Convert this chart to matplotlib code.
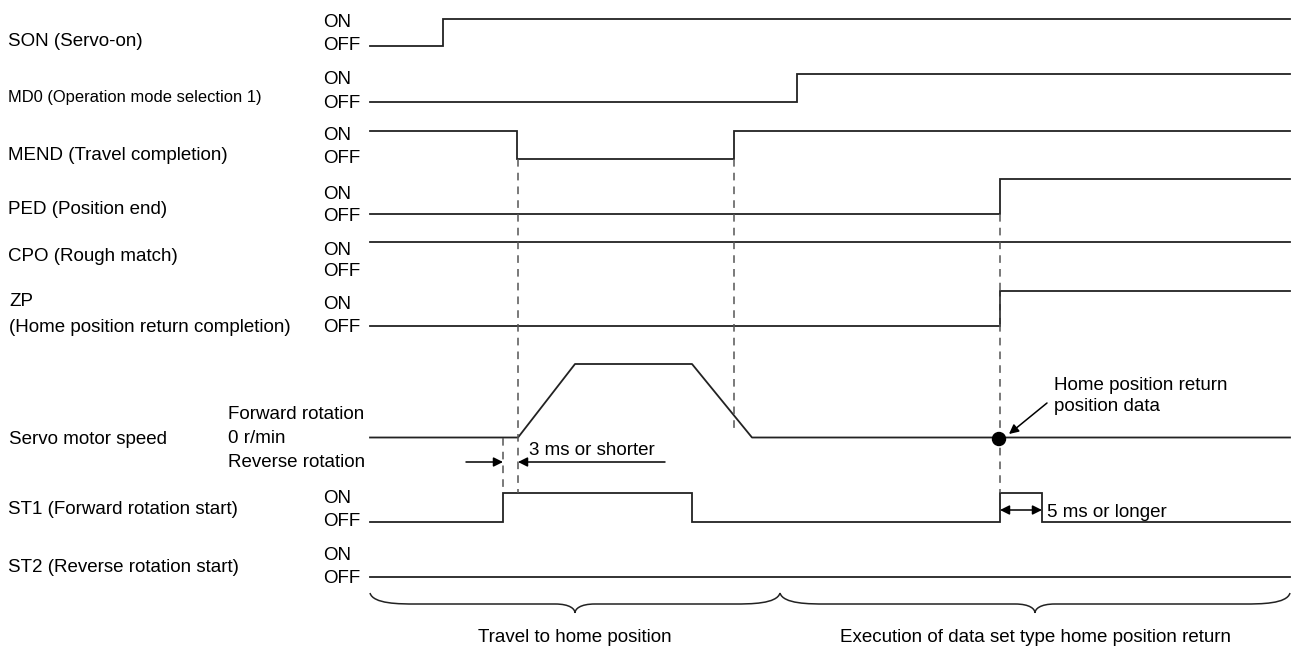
import numpy as np
import matplotlib.pyplot as plt
from matplotlib.path import Path
from matplotlib.patches import PathPatch, Ellipse

plt.rcParams['font.family'] = ['Liberation Sans', 'DejaVu Sans']

# time axis (drawing units along the chart)
t_start, t_end = 370, 1290

signal_names = ['SON (Servo-on)', 'MD0 (Operation mode selection 1)', 'MEND (Travel completion)',
                'PED (Position end)', 'CPO (Rough match)', 'ZP\n(Home position return completion)',
                'ST1 (Forward rotation start)', 'ST2 (Reverse rotation start)']
signal_init = [0, 0, 1, 0, 1, 0, 0, 0]
signal_edges = [[443], [797], [517, 734], [1000], [], [1000], [503, 692, 1000, 1042], []]

speed_t = [t_start, 518, 575, 692, 752, t_end]
speed_v = [0, 0, 1, 1, 0, 0]

dashed_x = [503, 518, 734, 1000]
phase_bounds = [t_start, 780, t_end]
phase_labels = ['Travel to home position', 'Execution of data set type home position return']


def main():
    fig = plt.figure(figsize=(12.94, 6.48), dpi=100)
    ax = fig.add_axes([0, 0, 1, 1])
    ax.set_xlim(0, 1294)
    ax.set_ylim(648, 0)
    ax.axis('off')

    fs = 13.5
    lc = '#222222'
    lw = 1.3

    # row layout: (on line y, off line y, label baseline, ON baseline, OFF baseline)
    rows = [(19, 46, 46, 27, 50),
            (74, 102, 102, 84, 108),
            (131, 159, 160, 140, 163),
            (179, 214, 214, 199, 221),
            (242, 270, 261, 255, 276),
            (291, 326, 332, 309, 332),
            (493, 522, 514, 503, 526),
            (549, 577, 572, 560, 583)]

    for i, name in enumerate(signal_names):
        on_y, off_y, lab_y, on_t, off_t = rows[i]
        lev = {1: on_y, 0: off_y}
        state = signal_init[i]
        xs, ys = [t_start], [lev[state]]
        for e in signal_edges[i]:
            xs.append(e); ys.append(lev[state])
            state = 1 - state
            xs.append(e); ys.append(lev[state])
        xs.append(t_end); ys.append(lev[state])
        ax.plot(xs, ys, color=lc, lw=lw, solid_joinstyle='miter')

        if '\n' in name:
            top, bottom = name.split('\n')
            ax.text(9, lab_y - 26, top, fontsize=fs, va='baseline')
            ax.text(9, lab_y, bottom, fontsize=fs, va='baseline')
        else:
            # the long MD0 label is squeezed in the original, so a bit smaller here
            size = 11.9 if name.startswith('MD0') else fs
            ax.text(8, lab_y, name, fontsize=size, va='baseline')
        ax.text(323, on_t, 'ON', fontsize=fs, va='baseline')
        ax.text(323, off_t, 'OFF', fontsize=fs, va='baseline')

    # servo motor speed
    zero_y, top_y = 437.5, 364
    sy = [zero_y + (top_y - zero_y) * v for v in speed_v]
    ax.plot(speed_t, sy, color=lc, lw=lw)
    ax.text(9, 444, 'Servo motor speed', fontsize=fs, va='baseline')
    ax.text(228, 419, 'Forward rotation', fontsize=fs, va='baseline')
    ax.text(228, 443, '0 r/min', fontsize=fs, va='baseline')
    ax.text(228, 467, 'Reverse rotation', fontsize=fs, va='baseline')

    # dashed guides
    spans = [(438, 493), (159, 493), (159, 428), (214, 493)]
    for x, (y0, y1) in zip(dashed_x, spans):
        ax.plot([x, x], [y0, y1], color='#555555', lw=1.1, ls=(0, (5, 4)))

    # 3 ms or shorter
    ap = dict(arrowstyle='-|>', color='black', lw=1.1, mutation_scale=14, shrinkA=0, shrinkB=0)
    ax.annotate('', xy=(dashed_x[0], 462), xytext=(466, 462), arrowprops=ap)
    ax.annotate('', xy=(dashed_x[1], 462), xytext=(665, 462), arrowprops=ap)
    ax.text(529, 455, '3 ms or shorter', fontsize=fs, va='baseline')

    # 5 ms or longer
    ap2 = dict(arrowstyle='<|-|>', color='black', lw=1.1, mutation_scale=14, shrinkA=0, shrinkB=0)
    ax.annotate('', xy=(1042, 510), xytext=(1000, 510), arrowprops=ap2)
    ax.text(1047, 517, '5 ms or longer', fontsize=fs, va='baseline')

    # home position return position data
    ax.add_patch(Ellipse((999, 439), 13, 13, color='black', zorder=5))
    ax.annotate('', xy=(1009, 434), xytext=(1047, 403), arrowprops=ap)
    ax.text(1054, 390, 'Home position return', fontsize=fs, va='baseline')
    ax.text(1054, 411, 'position data', fontsize=fs, va='baseline')

    # braces
    y_end, y_flat, y_tip = 593, 604, 613
    for (a, b), label in zip(zip(phase_bounds[:-1], phase_bounds[1:]), phase_labels):
        m = (a + b) / 2
        verts = [(a, y_end), (a + 3, y_flat), (a + 30, y_flat), (a + 45, y_flat),
                 (m - 30, y_flat), (m - 30, y_flat), (m - 20, y_flat),
                 (m - 5, y_flat), (m, y_tip - 4), (m, y_tip),
                 (m, y_tip - 4), (m + 5, y_flat), (m + 20, y_flat),
                 (m + 30, y_flat), (m + 30, y_flat), (b - 45, y_flat),
                 (b - 30, y_flat), (b - 3, y_flat), (b, y_end)]
        codes = [Path.MOVETO] + [Path.CURVE4] * 18
        ax.add_patch(PathPatch(Path(verts, codes), fill=False, color=lc, lw=1.1))
        ax.text(m, 642, label, fontsize=fs, ha='center', va='baseline')

    fig.savefig('out.png', dpi=100)


if __name__ == '__main__':
    main()
